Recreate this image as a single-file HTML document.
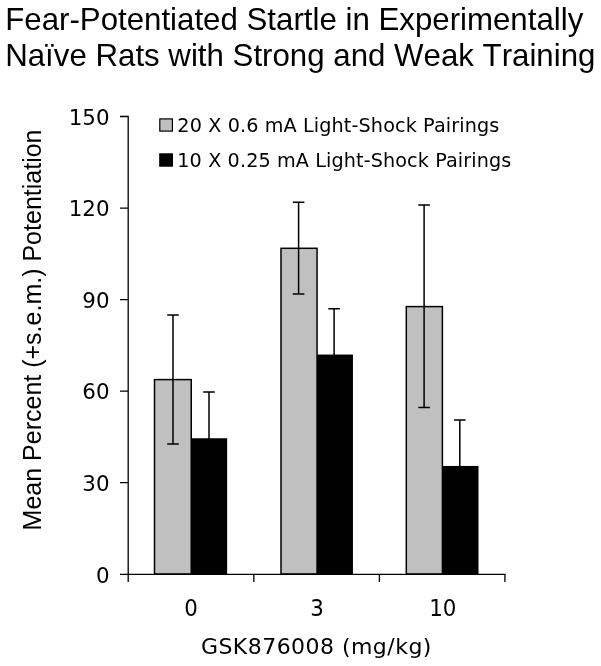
<!DOCTYPE html>
<html>
<head>
<meta charset="utf-8">
<title>Fear-Potentiated Startle</title>
<style>
html,body{margin:0;padding:0;background:#fff;}
svg{display:block;}
.t{font-family:"Liberation Sans",sans-serif;font-size:31.25px;font-kerning:none;fill:#000;}
.v{font-family:"DejaVu Sans",sans-serif;fill:#000;}
</style>
</head>
<body>
<svg width="601" height="666" viewBox="0 0 601 666" xmlns="http://www.w3.org/2000/svg">
<rect x="0" y="0" width="601" height="666" fill="#fff"/>
<!-- title -->
<text class="t" transform="translate(5.2,30.4) scale(1,1.025)">Fear-Potentiated Startle in Experimentally</text>
<text class="t" transform="translate(5.2,65.9) scale(1,1.025)">Naïve Rats with Strong and Weak Training</text>
<!-- y axis title -->
<text class="t" style="font-size:25px" transform="translate(41.2,530.4) rotate(-90)" x="0" y="0">Mean Percent (+s.e.m.) Potentiation</text>
<!-- bars -->
<g stroke="none" fill="#000">
<rect x="190.5" y="438.25" width="36.65" height="136.5"/>
<rect x="315.85" y="354.55" width="37.1" height="220.2"/>
<rect x="441.55" y="465.95" width="36.95" height="108.8"/>
</g>
<g stroke="#000" stroke-width="1.5" fill="#c0c0c0">
<rect x="154.5" y="379.6" width="36.75" height="194.4"/>
<rect x="281" y="248.3" width="36.05" height="325.7"/>
<rect x="406.3" y="306.6" width="36.1" height="267.4"/>
</g>
<!-- error bars -->
<g stroke="#000" stroke-width="1.5" fill="none">
<path d="M173 315.0V444.0M167.20 315.0h11.6M167.20 444.0h11.6"/>
<path d="M209 392.0V440M203.20 392.0h11.6"/>
<path d="M298.6 202.2V294.0M292.80 202.2h11.6M292.80 294.0h11.6"/>
<path d="M334.1 308.8V356M328.30 308.8h11.6"/>
<path d="M424.1 205.1V407.6M418.30 205.1h11.6M418.30 407.6h11.6"/>
<path d="M459.8 420.0V468M454.00 420.0h11.6"/>
</g>
<!-- axes -->
<g stroke="#000" stroke-width="1.3" fill="none">
<path d="M128.2 115.85V582"/>
<path d="M120 574.3H505.55"/>
<path d="M120 116.5h8M120 208.05h8M120 299.6h8M120 391.15h8M120 482.7h8"/>
<path d="M253.85 574v8M379.4 574v8M504.9 574v8"/>
</g>
<!-- y tick labels -->
<g class="v" font-size="21.4" text-anchor="end">
<text transform="translate(109.6,124.80) scale(1,1.03)">150</text>
<text transform="translate(109.6,216.35) scale(1,1.03)">120</text>
<text transform="translate(109.6,307.90) scale(1,1.03)">90</text>
<text transform="translate(109.6,399.45) scale(1,1.03)">60</text>
<text transform="translate(109.6,491.00) scale(1,1.03)">30</text>
<text transform="translate(109.6,582.55) scale(1,1.03)">0</text>
</g>
<!-- x tick labels -->
<g class="v" font-size="21.4" text-anchor="middle">
<text transform="translate(191.15,615.8) scale(1,1.075)">0</text>
<text transform="translate(317.0,615.8) scale(1,1.075)">3</text>
<text transform="translate(442.8,615.8) scale(1,1.075)">10</text>
</g>
<text class="v" font-size="22" x="200.9" y="653.8" textLength="230.5" lengthAdjust="spacing">GSK876008 (mg/kg)</text>
<!-- legend -->
<rect x="159.8" y="118.9" width="12.6" height="12.2" fill="#c0c0c0" stroke="#000" stroke-width="1.2"/>
<rect x="159.8" y="153.9" width="12.6" height="12.2" fill="#000" stroke="#000" stroke-width="1.2"/>
<text class="v" font-size="19.2" x="177.3" y="132" textLength="322" lengthAdjust="spacing">20 X 0.6 mA Light-Shock Pairings</text>
<text class="v" font-size="19.2" x="177.3" y="167" textLength="334" lengthAdjust="spacing">10 X 0.25 mA Light-Shock Pairings</text>
</svg>
</body>
</html>
